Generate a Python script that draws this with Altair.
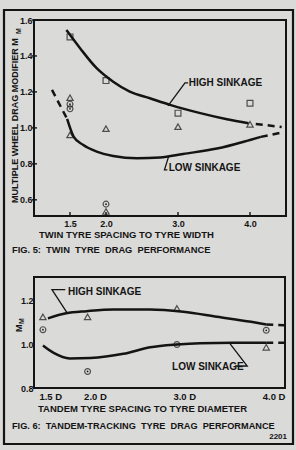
import altair as alt
import pandas as pd

# ---------------- data ----------------
# Fig. 5 - twin tyre
t5_sq_x = [1.5, 2.0, 3.0, 4.0]
t5_sq_y = [1.506, 1.263, 1.082, 1.137]
t5_tri_x = [1.5, 1.5, 2.0, 2.0, 3.0, 4.0]
t5_tri_y = [1.168, 0.961, 0.996, 0.535, 1.007, 1.020]
t5_cir_x = [1.5, 1.5, 2.0]
t5_cir_y = [1.132, 1.106, 0.576]

t5_high_x = [1.45, 1.64, 1.87, 2.10, 2.33, 2.61, 2.89, 3.31, 3.68, 3.98]
t5_high_y = [1.544, 1.443, 1.332, 1.257, 1.202, 1.165, 1.128, 1.082, 1.048, 1.026]
t5_high_ext_x = [4.08, 4.44]
t5_high_ext_y = [1.022, 1.005]

t5_low_ext1_x = [1.25, 1.46]
t5_low_ext1_y = [1.211, 1.05]
t5_low_x = [1.46, 1.55, 1.68, 1.87, 2.10, 2.43, 2.75, 3.07, 3.54, 4.0, 4.15]
t5_low_y = [1.05, 0.952, 0.906, 0.868, 0.844, 0.831, 0.835, 0.855, 0.885, 0.933, 0.950]
t5_low_ext2_x = [4.15, 4.44]
t5_low_ext2_y = [0.950, 0.974]

t5_ticks_x = [1.5, 2.0, 3.0, 4.0]
t5_ticks_y = [0.6, 0.8, 1.0, 1.2, 1.4, 1.6]

# Fig. 6 - tandem tracking
t6_tri_x = [1.5, 2.0, 3.0, 4.0]
t6_tri_y = [1.127, 1.127, 1.166, 0.987]
t6_cir_x = [1.5, 2.0, 3.0, 4.0]
t6_cir_y = [1.068, 0.876, 1.0, 1.065]

t6_high_x = [1.556, 1.76, 1.99, 2.29, 2.70, 3.07, 3.45, 3.83, 4.0]
t6_high_y = [1.120, 1.143, 1.153, 1.161, 1.161, 1.150, 1.127, 1.104, 1.092]
t6_high_ext_x = [4.0, 4.2]
t6_high_ext_y = [1.092, 1.088]

t6_low_x = [1.5, 1.62, 1.80, 2.03, 2.40, 2.70, 3.0, 3.26, 3.63, 4.0]
t6_low_y = [0.995, 0.961, 0.936, 0.938, 0.957, 0.987, 1.0, 1.006, 1.008, 1.008]
t6_low_ext_x = [4.0, 4.2]
t6_low_ext_y = [1.008, 1.008]

t6_ticks_x = [1.5, 2.0, 3.0, 4.0]
t6_ticks_y = [0.8, 1.0, 1.2]

# label anchor points and leader lines (data coordinates)
t5_labels = ["HIGH SINKAGE", "LOW SINKAGE"]
t5_label_x = [3.15, 2.87]
t5_label_y = [1.25, 0.775]
t5_lead_high_x = [3.14, 3.097, 2.861]
t5_lead_high_y = [1.25, 1.25, 1.122]
t5_lead_low_x = [2.868, 2.812, 2.852]
t5_lead_low_y = [0.839, 0.767, 0.767]

t6_labels = ["HIGH SINKAGE", "LOW SINKAGE"]
t6_label_x = [1.78, 2.946]
t6_label_y = [1.242, 0.897]
t6_lead_high_x = [1.75, 1.601, 1.769]
t6_lead_high_y = [1.252, 1.252, 1.146]
t6_lead_low_x = [3.652, 3.787, 3.596]
t6_lead_low_y = [0.901, 0.901, 1.003]

# ---------------- style ----------------
INK = "#141414"
BG = "#dadad8"
FONT = "Liberation Sans"
W, H = 296, 450


def df(xs, ys):
    return pd.DataFrame({"x": xs, "y": ys})


def seq(xs, ys):
    return pd.DataFrame({"x": xs, "y": ys, "i": list(range(len(xs)))})


def make_panel(sx, sy, ax_x, ax_y, frame, pts, lines, dashes, labels, leaders, ticks=None):
    X = lambda: alt.X("x:Q", scale=sx, axis=ax_x)
    Y = lambda: alt.Y("y:Q", scale=sy, axis=ax_y)
    x0, x1, y0, y1 = frame
    layers = []
    if ticks is not None:
        tx, ty = ticks
        dy = (y1 - y0) * 4.0 / 196.0
        dx = (x1 - x0) / 252.0
        rows = []
        for k, v in enumerate(tx):
            rows += [{"x": v, "y": y0, "g": f"x{k}", "i": 0}, {"x": v, "y": y0 + dy, "g": f"x{k}", "i": 1}]
        for k, v in enumerate(ty):
            rows += [{"x": x0 - 2 * dx, "y": v, "g": f"y{k}", "i": 0}, {"x": x0 + 3 * dx, "y": v, "g": f"y{k}", "i": 1}]
        layers.append(
            alt.Chart(pd.DataFrame(rows)).mark_line(color=INK, strokeWidth=1.4).encode(
                x=X(), y=Y(), detail="g:N", order="i:Q"
            )
        )
    for d in lines:
        layers.append(
            alt.Chart(d).mark_line(color=INK, strokeWidth=2.5, interpolate="monotone").encode(
                x=X(), y=Y(), order="i:Q"
            )
        )
    for d in dashes:
        layers.append(
            alt.Chart(d).mark_line(color=INK, strokeWidth=2.5, strokeDash=[7, 5]).encode(
                x=X(), y=Y(), order="i:Q"
            )
        )
    for d in leaders:
        layers.append(
            alt.Chart(d).mark_line(color=INK, strokeWidth=1.3).encode(x=X(), y=Y(), order="i:Q")
        )
    for d, shape, size in pts:
        if shape == "dotcircle":
            layers.append(
                alt.Chart(d).mark_point(shape="circle", filled=False, color=INK, size=34, strokeWidth=1.2).encode(x=X(), y=Y())
            )
            layers.append(
                alt.Chart(d).mark_point(shape="circle", filled=True, color=INK, size=3, opacity=1).encode(x=X(), y=Y())
            )
        else:
            layers.append(
                alt.Chart(d).mark_point(shape=shape, filled=False, color=INK, size=size, strokeWidth=1.2).encode(x=X(), y=Y())
            )
    layers.append(
        alt.Chart(labels).mark_text(
            font=FONT, fontSize=10, fontWeight="bold", color=INK, align="left", baseline="middle"
        ).encode(x=X(), y=Y(), text="label:N")
    )
    # plot frame as a closed line path through the panel's own scales
    fr = pd.DataFrame({"x": [x0, x1, x1, x0, x0], "y": [y0, y0, y1, y1, y0], "i": [0, 1, 2, 3, 4]})
    layers.append(
        alt.Chart(fr).mark_line(color=INK, strokeWidth=2, strokeJoin="miter", strokeCap="square").encode(
            x=X(), y=Y(), order="i:Q"
        )
    )
    return alt.layer(*layers)


common_ax = dict(domain=False, ticks=False, grid=False, title=None, labelFont=FONT,
                 labelFontWeight="bold", labelColor=INK, labelOverlap=False, labelFlush=False)

# ---------------- Fig. 5 ----------------
s5x = alt.Scale(domain=[1.0, 4.5], range=[34, 286], zero=False, nice=False)
s5y = alt.Scale(domain=[0.51, 1.6], range=[216, 20], zero=False, nice=False)
a5x = alt.Axis(orient="bottom", values=t5_ticks_x, format=".1f", offset=216 - H,
               labelPadding=3, labelFontSize=9, **common_ax)
a5y = alt.Axis(orient="left", values=t5_ticks_y, format=".1f", offset=-34,
               labelPadding=2, labelFontSize=9, **common_ax)

fig5 = make_panel(
    s5x, s5y, a5x, a5y,
    frame=(1.0, 4.5, 0.51, 1.6),
    pts=[(df(t5_sq_x, t5_sq_y), "square", 34),
         (df(t5_tri_x, t5_tri_y), "triangle-up", 40),
         (df(t5_cir_x, t5_cir_y), "dotcircle", 34)],
    lines=[seq(t5_high_x, t5_high_y), seq(t5_low_x, t5_low_y)],
    dashes=[seq(t5_high_ext_x, t5_high_ext_y), seq(t5_low_ext1_x, t5_low_ext1_y),
            seq(t5_low_ext2_x, t5_low_ext2_y)],
    labels=pd.DataFrame({"x": t5_label_x, "y": t5_label_y, "label": t5_labels}),
    leaders=[seq(t5_lead_high_x, t5_lead_high_y), seq(t5_lead_low_x, t5_lead_low_y)],
    ticks=(t5_ticks_x, t5_ticks_y),
)

# ---------------- Fig. 6 ----------------
s6x = alt.Scale(domain=[1.4, 4.21], range=[34, 285], zero=False, nice=False)
s6y = alt.Scale(domain=[0.8, 1.31], range=[388, 277], zero=False, nice=False)
a6x = alt.Axis(orient="bottom", values=t6_ticks_x, labelExpr="format(datum.value, '.1f') + ' D'",
               offset=388 - H, labelPadding=3, labelFontSize=9.5, labelAlign="left",
               labelOffset=-4, **common_ax)
a6y = alt.Axis(orient="left", values=t6_ticks_y, format=".1f", offset=-34,
               labelPadding=1, labelFontSize=9, **common_ax)

fig6 = make_panel(
    s6x, s6y, a6x, a6y,
    frame=(1.4, 4.21, 0.8, 1.31),
    pts=[(df(t6_tri_x, t6_tri_y), "triangle-up", 40),
         (df(t6_cir_x, t6_cir_y), "dotcircle", 34)],
    lines=[seq(t6_high_x, t6_high_y), seq(t6_low_x, t6_low_y)],
    dashes=[seq(t6_high_ext_x, t6_high_ext_y), seq(t6_low_ext_x, t6_low_ext_y)],
    labels=pd.DataFrame({"x": t6_label_x, "y": t6_label_y, "label": t6_labels}),
    leaders=[seq(t6_lead_high_x, t6_lead_high_y), seq(t6_lead_low_x, t6_lead_low_y)],
)


# ---------------- page texts & border ----------------
def txt(s, x, y, size=9.5, align="left", angle=0, baseline="middle"):
    return alt.Chart(pd.DataFrame({"t": [s]})).mark_text(
        font=FONT, fontSize=size, fontWeight="bold", color=INK,
        align=align, baseline=baseline, angle=angle
    ).encode(x=alt.value(x), y=alt.value(y), text="t:N")


page_border = alt.Chart(pd.DataFrame({"box": ["page"]})).mark_rect(
    filled=False, stroke=INK, strokeWidth=2.2
).encode(x=alt.value(4), x2=alt.value(293), y=alt.value(10), y2=alt.value(444))

texts = [
    txt("MULTIPLE WHEEL DRAG MODIFIER M", 15, 203, size=9, angle=270),
    txt("M", 18.5, 34, size=7, angle=270),
    txt("TWIN TYRE SPACING TO TYRE WIDTH", 39, 235, size=9.5),
    txt("FIG. 5:  TWIN  TYRE  DRAG  PERFORMANCE".replace("  ", "\u00a0\u00a0"), 12, 250, size=9.3),
    txt("M", 19, 332, size=9, angle=270),
    txt("M", 22, 324, size=7, angle=270),
    txt("TANDEM TYRE SPACING TO TYRE DIAMETER", 38, 409, size=9.5),
    txt("FIG. 6:  TANDEM-TRACKING  TYRE  DRAG  PERFORMANCE".replace("  ", "\u00a0\u00a0"), 12, 426, size=9.2),
    txt("2201", 287, 437, size=8, align="right"),
]

chart = (
    alt.layer(fig5, fig6, *texts, page_border)
    .resolve_scale(x="independent", y="independent")
    .resolve_axis(x="independent", y="independent")
    .properties(width=W, height=H, padding=0, background=BG,
                autosize=alt.AutoSizeParams(type="none"))
    .configure_view(stroke=None)
)

chart.save("out.html", embed_options={"renderer": "svg", "actions": False})
